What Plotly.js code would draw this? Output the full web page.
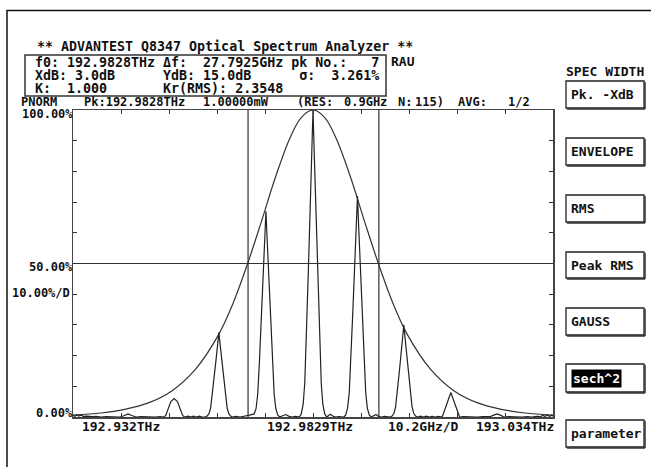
<!DOCTYPE html>
<html><head><meta charset="utf-8">
<script src="https://cdn.plot.ly/plotly-3.0.1.min.js"></script>
<style>html,body{margin:0;padding:0;background:#fff;}#chart{width:651px;height:467px;}</style>
</head><body><div id="chart"></div>
<script>
// ---- data (frequency offset from centre 192.9829 THz, in GHz; level in % of peak) ----
const centerTHz = 192.9829;
const specFreq = [-51.0,-50.6,-50.2,-49.8,-49.3,-48.8,-48.0,-47.0,-46.0,-45.0,-44.0,-43.0,-42.0,-41.0,
 -40.2,-39.3,-38.5,-37.6,-36.5,-35.5,-34.5,-33.5,-32.5,-31.7,
 -31.3,-30.8,-30.2,-29.5,-28.8,-28.2,-27.7,-27.3,
 -26.5,-26.0,-25.4,-24.8,-24.2,-23.6,
 -22.9,-22.5,-22.1,-21.75,-21.4,-21.0,-20.6,-20.3,-20.0,-19.7,-19.4,-19.0,-18.6,-18.25,-17.9,-17.5,-17.1,
 -16.3,-15.5,-14.8,-14.2,-13.5,-13.0,
 -12.5,-12.1,-11.75,-11.4,-11.0,-10.6,-10.3,-10.0,-9.7,-9.4,-9.0,-8.6,-8.25,-7.9,-7.5,-7.1,
 -6.4,-5.8,-5.2,-4.5,-3.7,
 -2.9,-2.5,-2.1,-1.75,-1.4,-1.0,-0.6,-0.3,0.0,0.3,0.6,1.0,1.4,1.75,2.1,2.5,2.9,
 3.3,3.7,4.2,4.8,5.5,6.1,
 6.55,6.95,7.35,7.7,8.05,8.45,8.85,9.15,9.45,9.75,10.05,10.45,10.85,11.2,11.55,11.95,12.35,
 12.9,13.4,13.9,14.6,15.2,15.8,
 16.4,16.8,17.2,17.55,17.9,18.3,18.7,19.0,19.3,19.6,19.9,20.3,20.7,21.05,21.4,21.8,22.2,
 22.9,23.5,24.1,24.7,25.3,25.9,26.6,
 27.45,27.8,28.3,28.8,29.3,29.8,30.3,30.8,31.15,
 32.0,33.0,34.0,35.0,36.0,37.0,
 37.6,38.4,39.1,39.8,40.6,
 41.5,42.5,43.5,44.5,45.5,46.5,47.5,48.3,48.8,49.3,49.8,50.3,50.7,51.0];
const specLevel = [0.6,0.2,0.7,0.3,0.6,0.2,0.3,0.1,0.2,0.0,0.1,0.0,0.1,0.0,
 0.4,1.0,0.5,0.0,0.1,0.0,0.1,0.0,0.1,0.0,
 0.5,2.5,5.0,6.0,5.0,2.5,0.5,0.0,
 0.3,0.0,0.3,0.0,0.3,0.0,
 0.0,0.3,1.1,3.0,7.2,12.9,18.7,23.1,27.5,23.1,18.7,12.9,7.2,3.0,1.1,0.3,0.0,
 0.2,0.0,0.3,0.4,0.6,0.8,
 1.0,2.7,7.4,17.4,31.5,45.6,56.3,67.0,56.3,45.6,31.5,17.4,7.4,2.7,0.7,0.0,
 0.3,0.8,0.3,0.0,0.2,
 0.0,1.0,4.0,11.0,26.0,47.0,68.0,84.0,100.0,84.0,68.0,47.0,26.0,11.0,4.0,1.0,0.0,
 0.5,0.9,0.3,0.0,0.1,0.0,
 0.0,0.7,2.9,7.9,18.7,33.8,49.0,60.5,72.0,60.5,49.0,33.8,18.7,7.9,2.9,0.7,0.0,
 0.4,0.8,0.2,0.0,0.2,0.0,
 0.0,0.3,1.2,3.3,7.8,14.1,20.4,25.2,30.0,25.2,20.4,14.1,7.8,3.3,1.2,0.3,0.0,
 0.3,0.0,0.3,0.0,0.2,0.0,0.2,
 0.0,1.5,3.7,5.8,8.0,5.8,3.7,1.5,0.0,
 0.1,0.0,0.1,0.0,0.1,0.0,
 0.1,0.6,1.0,0.6,0.0,
 0.1,0.0,0.1,0.0,0.1,0.0,0.2,0.1,0.5,0.2,0.6,0.2,0.6,0.3];
const envFreq  = [-51,-45,-40,-35,-30,-25,-20,-17,-14,-11,-8,-5,-2.5,0,2.5,5,8,11,14,17,20,25,30,35,40,45,51];
const envLevel = [0.6,1.3,2.5,4.6,8.5,15.5,27,37,49.5,63.5,78,90.5,97.5,100,97.5,90.5,78,63.5,49.5,37,27,15.5,8.5,4.6,2.5,1.3,0.6];
const widthMarkers = [-13.8, 14.0];   // -XdB points (GHz)
const halfLevel = 50;                 // % line
const xTickLabels = ["192.932THz","192.9829THz","10.2GHz/D","193.034THz"];
const yTickLabels = ["100.00%","50.00%","10.00%/D","0.00%"];
const menuItems = ["Pk. -XdB","ENVELOPE","RMS","Peak RMS","GAUSS","sech^2","parameter"];
const infoLines = [
  "f0: 192.9828THz \u0394f:  27.7925GHz pk No.:   7",
  "XdB: 3.0dB      YdB: 15.0dB      \u03c3:  3.261%",
  "K:  1.000       Kr(RMS): 2.3548"
];

// ---- geometry helpers (pixels -> paper) ----
const L=73, R=553, T=110, B=417;
const px = x => (x-L)/(R-L);
const py = y => (B-y)/(B-T);
const nb = s => s.replace(/ /g,'\u00a0');
const FONT = {family:'DejaVu Sans Mono, monospace', size:13, color:'#111', weight:'bold'};
const ann = [];
function txt(s,x,y,anchor,extra,size){
  const f = Object.assign({},FONT); if(size) f.size=size;
  ann.push(Object.assign({text:nb(s),xref:'paper',yref:'paper',x:px(x),y:py(y),
    xanchor:anchor||'left',yanchor:'middle',showarrow:false,font:f,borderpad:0},extra||{}));
}
// header
txt("** ADVANTEST Q8347 Optical Spectrum Analyzer **",36,47,'left',null,13.3);
infoLines.forEach((s,i)=>txt(s,34,62.5+13*i,'left',null,13.3));
txt("RAU",390,62);
const S2=12;
txt("PNORM",20,102,'left',null,S2); txt("Pk:192.9828THz",83,102,'left',null,S2); txt("1.00000mW",202,102,'left',null,S2);
txt("(RES:",296,102,'left',null,S2); txt("0.9GHz",343,102,'left',null,S2); txt("N:",397,102,'left',null,S2);
txt("115)",414,102,'left',null,S2); txt("AVG:",457,102,'left',null,S2); txt("1/2",507,102,'left',null,S2);
// y labels
txt(yTickLabels[0],74,114,'right',null,12); txt(yTickLabels[1],74,267,'right',null,12);
txt(yTickLabels[2],71,293,'right',null,12); txt(yTickLabels[3],74,413,'right',null,12);
// x labels
txt(xTickLabels[0],81,426); txt(xTickLabels[1],266,426); txt(xTickLabels[2],387,426); txt(xTickLabels[3],555,426,'right');
// menu
txt("SPEC WIDTH",565,72);
const boxY = [[81,108],[138,165],[195,222],[252,278],[308,335],[364,392],[420,447]];
const shapes = [];
menuItems.forEach((m,i)=>{
  const [y0,y1]=boxY[i];
  shapes.push({type:'rect',xref:'paper',yref:'paper',x0:px(566),x1:px(644),y0:py(y0),y1:py(y1),line:{color:'#222',width:1.3}});
  shapes.push({type:'line',xref:'paper',yref:'paper',x0:px(567),x1:px(645),y0:py(y1+1),y1:py(y1+1),line:{color:'#333',width:1.5}});
  shapes.push({type:'line',xref:'paper',yref:'paper',x0:px(645),x1:px(645),y0:py(y0+1),y1:py(y1+1),line:{color:'#333',width:1.5}});
  const yc=(y0+y1)/2;
  if(m==="sech^2") txt(m,571,yc,'left',{bgcolor:'#000',font:Object.assign({},FONT,{color:'#fff'}),borderpad:1});
  else txt(m,570,yc);
});
// header box and outer frame
shapes.push({type:'rect',xref:'paper',yref:'paper',x0:px(25),x1:px(386),y0:py(55),y1:py(96),line:{color:'#333',width:1.5}});
shapes.push({type:'rect',xref:'paper',yref:'paper',x0:px(7),x1:px(700),y0:py(10.5),y1:py(500),line:{color:'#111',width:1.5}});
// markers
widthMarkers.forEach(f=>shapes.push({type:'line',xref:'x',yref:'y',x0:f,x1:f,y0:0,y1:100,line:{color:'#333',width:1.2}}));
shapes.push({type:'line',xref:'x',yref:'y',x0:-51,x1:51,y0:halfLevel,y1:halfLevel,line:{color:'#333',width:1.2}});

const traces = [
  {x:envFreq,y:envLevel,type:'scatter',mode:'lines',line:{color:'#333',width:1.2,shape:'spline',smoothing:1},hoverinfo:'skip'},
  {x:specFreq,y:specLevel,type:'scatter',mode:'lines',line:{color:'#222',width:1.2},hoverinfo:'skip'}
];
const axisCommon = {showgrid:false,zeroline:false,showticklabels:false,ticks:'inside',ticklen:4,tickcolor:'#333',
  showline:true,linecolor:'#444',linewidth:1.5,mirror:'ticks'};
const layout = {
  width:651,height:467,margin:{l:L,r:651-R,t:T,b:467-B,pad:0},
  paper_bgcolor:'#fff',plot_bgcolor:'#fff',showlegend:false,
  xaxis:Object.assign({range:[-51,51],tick0:-51,dtick:10.2},axisCommon),
  yaxis:Object.assign({range:[0,100],tick0:0,dtick:10},axisCommon),
  annotations:ann,shapes:shapes
};
Plotly.newPlot('chart',traces,layout,{displayModeBar:false,staticPlot:true});
</script></body></html>
